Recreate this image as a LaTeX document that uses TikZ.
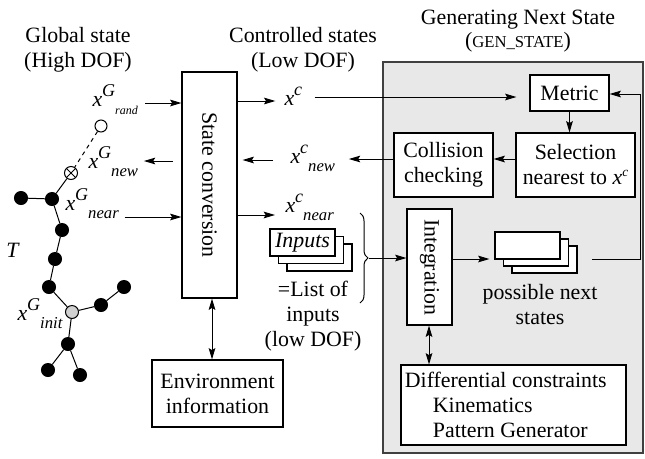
\documentclass[tikz,border=0pt]{standalone}
\usepackage{fontspec}
\setmainfont{Liberation Serif}
\usetikzlibrary{arrows.meta,fit,decorations.pathreplacing}

\newcommand{\xstate}[3]{\textit{x}\raisebox{0.42em}{\fontsize{13.5}{13.5}\selectfont\textit{#1}}\raisebox{-0.38em}{\fontsize{#3}{#3}\selectfont\textit{#2}}}

\tikzset{every picture/.style={line width=0.75pt}}
\tikzset{
  txt/.style={inner sep=0pt, align=center, font=\fontsize{16.4}{18.75}\selectfont},
  box/.style={draw, fill=white, inner sep=0pt, line width=0.85pt},
  dot/.style={circle, draw, fill=black, inner sep=0pt, minimum size=9.75pt},
  arr/.style={-{Stealth[length=8.5pt,width=5pt,inset=1.5pt]}},
  darr/.style={{Stealth[length=8.5pt,width=5pt,inset=1.5pt]}-{Stealth[length=8.5pt,width=5pt,inset=1.5pt]}},
}

\begin{document}
\begin{tikzpicture}[x=0.75pt,y=0.75pt,yscale=-1,xscale=1]
\useasboundingbox (0,0) rectangle (645,458);

%Shape: Rectangle (GEN_STATE panel)
\node[draw=black!75, fill=black!9, line width=1pt, inner sep=0pt, fit={(383,62) (643,453)}] (gen) {};

% Text Node
\node[txt] (tglob) at (78,50) {Global state\\(High DOF)};
% Text Node
\node[txt] (tctrl) at (303,50) {Controlled states\\(Low DOF)};
% Text Node
\node[txt] (tgen) at (518,31) {Generating Next State\\[-1.5pt]({\fontsize{12.5}{12}\selectfont GEN\_STATE})};

%Shape: Rectangle
\node[box, fit={(182,72) (237,298)}] (sconv) {};
\node[txt, rotate=-90] at (sconv.center) {State conversion};
%Shape: Rectangle
\node[box, fit={(152,360) (283,427)}] (env) {};
\node[txt] at (env.center) {Environment\\information};
%Shape: Rectangle
\node[box, fit={(530,75) (609,111)}] (metric) {};
\node[txt] at (metric.center) {Metric};
%Shape: Rectangle
\node[box, fit={(516,133) (635,197)}] (select) {};
\node[txt] at (select.center) {Selection\\nearest to \textit{x}\raisebox{0.4em}{\fontsize{10}{10}\selectfont\textit{c}}};
%Shape: Rectangle
\node[box, fit={(394,133) (493,197)}] (coll) {};
\node[txt] at (coll.center) {Collision\\checking};
%Shape: Rectangle
\node[box, fit={(407,209) (452,325)}] (integ) {};
\node[txt, rotate=-90] at (integ.center) {Integration};
%Shape: Rectangle
\node[box, fit={(401,365) (626,445)}] (diff) {};
\node[txt, align=left, anchor=west] at ([xshift=3pt]diff.west) {Differential constraints\\\hspace{21pt}Kinematics\\\hspace{21pt}Pattern Generator};

%Shape: Stacked rectangles
\foreach \i in {2,1,0} {
  \node[box, fit={(270+8.5*\i,229+7.5*\i) (335+8.5*\i,256+7.5*\i)}] (inp\i) {};
  \node[box, fit={(495+8.5*\i,232+7*\i) (560+8.5*\i,259+7*\i)}] (nxt\i) {};
}
\node[txt] at (inp0.center) {\textit{Inputs}};
% Text Node
\node[txt] (inlist) at (313,316) {=List of\\inputs\\(low DOF)};
% Text Node
\node[txt] (nxtlbl) at (540,305) {possible next\\states};

% Text Node (state labels)
\node[txt, anchor=base west] (xgrand) at (92,106) {\xstate{G}{rand}{9}};
\node[txt, anchor=base west] (xgnew) at (88,168) {\xstate{G}{new}{12.5}};
\node[txt, anchor=base west] (xgnear) at (65,210) {\xstate{G}{near}{12.5}};
\node[txt, anchor=base west] (xginit) at (17,320) {\xstate{G}{init}{12.5}};
\node[txt] (tree) at (13,250) {\textit{T}};
\node[txt, anchor=base west] (xc) at (284,105) {\xstate{c}{}{12.5}};
\node[txt, anchor=base west] (xcnew) at (290,163) {\xstate{c}{new}{12.5}};
\node[txt, anchor=base west] (xcnear) at (285,212) {\xstate{c}{near}{12.5}};

%Shape: Tree
\node[circle, draw, fill=white, inner sep=0pt, minimum size=9pt] (rnd) at (101,126) {};
\node[circle, draw, fill=white, inner sep=0pt, minimum size=9.75pt,
  path picture={\draw (path picture bounding box.north west) -- (path picture bounding box.south east)
  (path picture bounding box.north east) -- (path picture bounding box.south west);}] (nw) at (71,173) {};
\node[dot] (nr) at (52,199) {};
\node[dot] (lf) at (21,198) {};
\node[dot] (t1) at (62,230) {};
\node[dot] (t2) at (55,259) {};
\node[dot] (t3) at (49,287) {};
\node[dot, fill=black!18] (ini) at (72,312) {};
\node[dot] (b1) at (101,305) {};
\node[dot] (b2) at (124,287) {};
\node[dot] (d1) at (68,344) {};
\node[dot] (d2) at (48,370) {};
\node[dot] (d3) at (80,375) {};

\draw[dashed] (rnd) -- (nw);
\draw (nw) -- (nr) -- (lf);
\draw (nr) -- (t1) -- (t2) -- (t3) -- (ini) -- (b1) -- (b2);
\draw (ini) -- (d1) -- (d2);
\draw (d1) -- (d3);

%Straight Lines
\draw[arr, shorten <=5pt] (xgrand.east |- 0,103) -- (sconv.west |- 0,103);
\draw[arr, shorten <=6.5pt, shorten >=4pt] (sconv.west |- 0,161) -- (xgnew.east |- 0,161);
\draw[arr, shorten <=4pt] (xgnear.east |- 0,217) -- (sconv.west |- 0,217);
\draw[arr, shorten >=6.5pt] (sconv.east |- 0,101) -- (xc.west |- 0,101);
\draw[arr, shorten <=9pt, shorten >=9.75pt] (xc.east |- 0,97) -- (metric.west |- 0,97);
\draw[arr, shorten >=10pt] (coll.west |- 0,159) -- (xcnew.east |- 0,159);
\draw[arr, shorten <=12.75pt, shorten >=3.75pt] (xcnew.west |- 0,160) -- (sconv.east |- 0,160);
\draw[arr, shorten >=7.5pt] (sconv.east |- 0,215) -- (xcnear.west |- 0,215);
\draw[arr] (metric.south) -- (select.north -| metric.south);
\draw[arr] (select.west |- 0,159) -- (coll.east |- 0,159);
\draw[darr] (sconv.south -| 212,0) -- (env.north -| 212,0);
\draw[darr] (integ.south -| 429,0) -- (diff.north -| 429,0);

%Brace
\draw[decorate, decoration={brace, amplitude=6pt}] (360,213) -- (360,303);
\coordinate (bracetip) at (369,258);
\draw[arr] (bracetip) -- (integ.west |- bracetip);
\draw[arr, shorten >=3.75pt] (integ.east |- 0,259) -- (nxt0.west |- 0,259);
\draw[arr] ([xshift=11pt]nxt2.east |- 0,259) -- (640,259) -- (640,94) -- (metric.east |- 0,94);

\end{tikzpicture}
\end{document}
